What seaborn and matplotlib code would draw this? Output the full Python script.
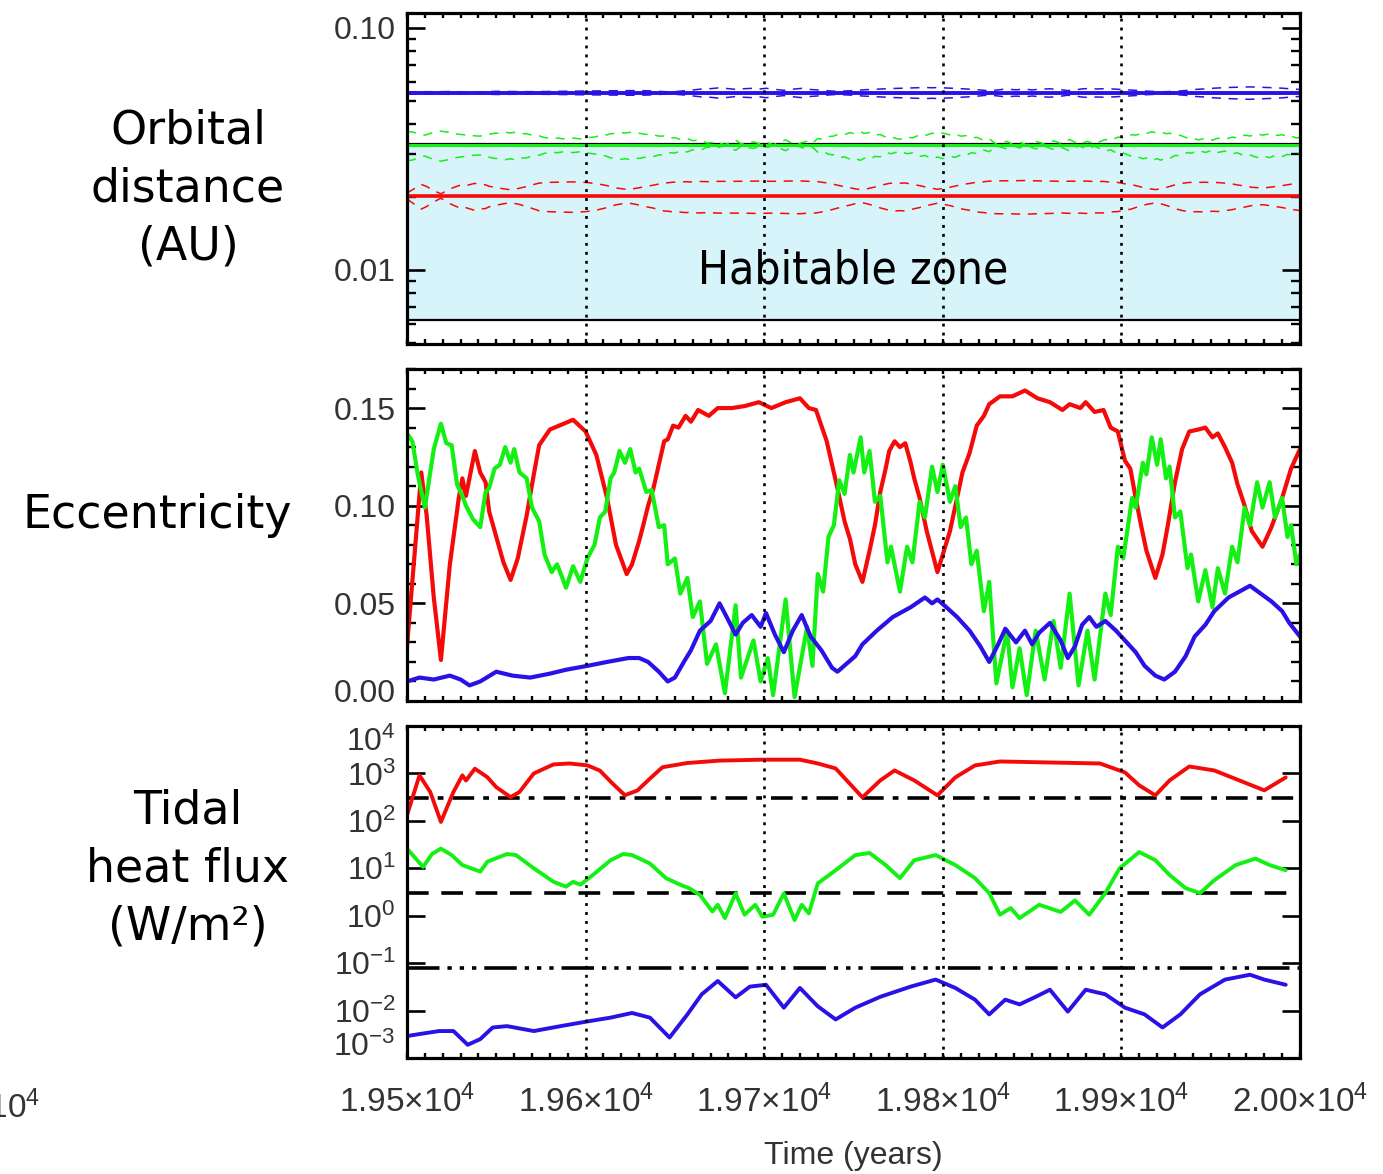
import numpy as np
import pandas as pd
import matplotlib
matplotlib.use("Agg")
import matplotlib.pyplot as plt
from matplotlib.ticker import FixedLocator, MultipleLocator, FuncFormatter, NullLocator, LogLocator
from matplotlib.transforms import ScaledTranslation
import seaborn as sns

# ---------------------------------------------------------------- data
# eccentricity histories (time in years)
red_t = [19500, 19508, 19511, 19515, 19519, 19524, 19529, 19531, 19533, 19538, 19541, 19544, 19546,
         19550, 19554, 19558, 19562, 19567, 19571, 19574, 19580, 19593, 19600, 19606, 19612, 19617,
         19623, 19626, 19630, 19632, 19635, 19638, 19641, 19644, 19646, 19649, 19652, 19656, 19659,
         19663, 19669, 19674, 19682, 19689, 19697, 19704, 19712, 19720, 19725, 19729, 19732, 19735,
         19738, 19741, 19745, 19748, 19751, 19755, 19759, 19762, 19765, 19768, 19770, 19773, 19776,
         19779, 19782, 19784, 19787, 19791, 19795, 19797, 19800, 19804, 19808, 19811, 19815, 19819,
         19823, 19826, 19832, 19839, 19846, 19853, 19860, 19867, 19871, 19877, 19880, 19885, 19890,
         19894, 19898, 19902, 19905, 19908, 19911, 19914, 19919, 19923, 19926, 19930, 19934, 19938,
         19943, 19947, 19951, 19954, 19958, 19962, 19965, 19969, 19973, 19979, 19984, 19990, 19995,
         20000]
red_e = [0.028, 0.117, 0.095, 0.053, 0.021, 0.070, 0.104, 0.114, 0.105, 0.128, 0.117, 0.112, 0.097,
         0.084, 0.071, 0.062, 0.073, 0.095, 0.116, 0.131, 0.139, 0.144, 0.138, 0.126, 0.104, 0.080,
         0.065, 0.070, 0.082, 0.089, 0.100, 0.109, 0.121, 0.133, 0.134, 0.141, 0.140, 0.146, 0.143,
         0.149, 0.146, 0.150, 0.150, 0.151, 0.153, 0.150, 0.153, 0.155, 0.150, 0.149, 0.141, 0.133,
         0.121, 0.109, 0.092, 0.083, 0.070, 0.061, 0.077, 0.090, 0.107, 0.119, 0.128, 0.133, 0.130,
         0.132, 0.122, 0.114, 0.104, 0.087, 0.073, 0.066, 0.075, 0.087, 0.104, 0.117, 0.127, 0.141,
         0.146, 0.152, 0.156, 0.156, 0.159, 0.155, 0.153, 0.149, 0.152, 0.150, 0.153, 0.148, 0.149,
         0.140, 0.138, 0.123, 0.119, 0.104, 0.090, 0.077, 0.063, 0.075, 0.090, 0.112, 0.129, 0.138,
         0.139, 0.140, 0.135, 0.137, 0.130, 0.122, 0.111, 0.100, 0.087, 0.079, 0.089, 0.104, 0.119,
         0.129]

green_t = [19500, 19503, 19506, 19510, 19513, 19515, 19519, 19522, 19525, 19528, 19531, 19533, 19537,
           19541, 19544, 19546, 19549, 19552, 19555, 19558, 19560, 19563, 19567, 19570, 19574, 19577,
           19581, 19584, 19587, 19589, 19593, 19597, 19601, 19605, 19608, 19611, 19614, 19616, 19619,
           19622, 19625, 19628, 19630, 19634, 19637, 19641, 19644, 19646, 19650, 19653, 19657, 19660,
           19664, 19668, 19673, 19678, 19684, 19687, 19694, 19698, 19702, 19705, 19712, 19717, 19724,
           19727, 19730, 19733, 19736, 19739, 19742, 19745, 19748, 19750, 19754, 19756, 19759, 19762,
           19765, 19769, 19771, 19776, 19780, 19783, 19787, 19790, 19794, 19797, 19800, 19804, 19807,
           19810, 19813, 19816, 19819, 19823, 19826, 19830, 19836, 19839, 19843, 19847, 19852, 19857,
           19862, 19866, 19871, 19876, 19881, 19885, 19891, 19894, 19898, 19901, 19906, 19908, 19912,
           19914, 19917, 19920, 19922, 19925, 19927, 19930, 19933, 19937, 19939, 19943, 19947, 19951,
           19954, 19958, 19962, 19965, 19969, 19972, 19976, 19979, 19983, 19986, 19990, 19993, 19995,
           19998, 20000]
green_e = [0.137, 0.133, 0.116, 0.099, 0.117, 0.129, 0.142, 0.132, 0.131, 0.111, 0.105, 0.100, 0.093,
           0.089, 0.107, 0.109, 0.119, 0.121, 0.130, 0.122, 0.129, 0.117, 0.114, 0.099, 0.092, 0.075,
           0.066, 0.070, 0.063, 0.058, 0.069, 0.061, 0.073, 0.080, 0.094, 0.097, 0.114, 0.117, 0.128,
           0.122, 0.129, 0.117, 0.119, 0.107, 0.108, 0.089, 0.090, 0.070, 0.073, 0.055, 0.063, 0.043,
           0.051, 0.019, 0.029, 0.004, 0.049, 0.012, 0.031, 0.010, 0.022, 0.003, 0.052, 0.002, 0.038,
           0.018, 0.065, 0.056, 0.084, 0.090, 0.113, 0.106, 0.126, 0.117, 0.135, 0.117, 0.128, 0.102,
           0.105, 0.071, 0.079, 0.056, 0.079, 0.071, 0.102, 0.094, 0.120, 0.107, 0.121, 0.102, 0.110,
           0.089, 0.094, 0.070, 0.077, 0.046, 0.061, 0.009, 0.036, 0.007, 0.027, 0.003, 0.036, 0.011,
           0.041, 0.017, 0.055, 0.008, 0.036, 0.011, 0.055, 0.044, 0.079, 0.073, 0.104, 0.099, 0.122,
           0.116, 0.135, 0.121, 0.134, 0.114, 0.120, 0.094, 0.097, 0.068, 0.075, 0.051, 0.067, 0.048,
           0.068, 0.055, 0.079, 0.071, 0.099, 0.090, 0.112, 0.099, 0.112, 0.094, 0.104, 0.084, 0.090,
           0.070, 0.075]

blue_t = [19500, 19507, 19515, 19524, 19530, 19535, 19541, 19550, 19559, 19569, 19580, 19589, 19601,
          19612, 19624, 19630, 19635, 19641, 19646, 19650, 19655, 19659, 19664, 19670, 19675, 19679,
          19684, 19688, 19693, 19698, 19701, 19706, 19711, 19716, 19721, 19726, 19732, 19738, 19741,
          19746, 19751, 19755, 19763, 19772, 19782, 19790, 19794, 19797, 19802, 19808, 19815, 19821,
          19826, 19831, 19835, 19841, 19846, 19850, 19854, 19860, 19866, 19870, 19874, 19878, 19882,
          19886, 19891, 19897, 19902, 19908, 19913, 19919, 19924, 19930, 19936, 19941, 19947, 19952,
          19960, 19966, 19972, 19978, 19984, 19990, 19994, 20000]
blue_e = [0.010, 0.012, 0.011, 0.013, 0.011, 0.008, 0.010, 0.015, 0.013, 0.012, 0.014, 0.016, 0.018,
          0.020, 0.022, 0.022, 0.020, 0.015, 0.010, 0.012, 0.020, 0.026, 0.036, 0.041, 0.050, 0.043,
          0.034, 0.040, 0.044, 0.038, 0.045, 0.034, 0.025, 0.036, 0.044, 0.033, 0.026, 0.017, 0.015,
          0.019, 0.023, 0.029, 0.036, 0.043, 0.048, 0.053, 0.050, 0.052, 0.048, 0.043, 0.036, 0.028,
          0.020, 0.029, 0.037, 0.030, 0.036, 0.029, 0.035, 0.040, 0.031, 0.022, 0.028, 0.039, 0.043,
          0.038, 0.041, 0.036, 0.031, 0.025, 0.018, 0.013, 0.011, 0.015, 0.023, 0.033, 0.039, 0.046,
          0.053, 0.056, 0.059, 0.055, 0.051, 0.046, 0.040, 0.033]

# semi-major axes (AU) and habitable zone edges (AU)
red_a, green_a, blue_a = 0.0202, 0.0328, 0.0539
hz_inner, hz_outer = 0.0062, 0.0332

# tidal surface heat flux (W/m^2)
red_ft = [19500, 19507, 19513, 19519, 19526, 19531, 19533, 19538, 19545, 19550, 19558, 19563, 19571,
          19582, 19591, 19601, 19608, 19615, 19622, 19629, 19636, 19643, 19657, 19675, 19699, 19720,
          19730, 19740, 19755, 19765, 19773, 19784, 19797, 19807, 19818, 19832, 19860, 19888, 19902,
          19910, 19919, 19927, 19938, 19952, 19966, 19980, 19992]
red_flux = [132, 912, 407, 95, 407, 912, 708, 1259, 832, 513, 316, 407, 1000,
            1549, 1622, 1479, 1148, 617, 347, 437, 776, 1349, 1660, 1862, 1950, 1950,
            1622, 1274, 313, 713, 1156, 713, 345, 824, 1473, 1787, 1700, 1622, 1050,
            560, 345, 713, 1400, 1156, 713, 440, 824]

green_ft = [19500, 19509, 19514, 19519, 19525, 19531, 19541, 19545, 19556, 19561, 19571, 19582, 19589,
            19593, 19597, 19604, 19614, 19621, 19626, 19636, 19645, 19653, 19658, 19664, 19671, 19674,
            19678, 19684, 19689, 19695, 19699, 19705, 19711, 19717, 19721, 19725, 19730, 19740, 19751,
            19759, 19768, 19776, 19784, 19796, 19807, 19818, 19826, 19832, 19838, 19843, 19854, 19866,
            19874, 19882, 19891, 19899, 19910, 19919, 19927, 19936, 19944, 19952, 19964, 19975, 19983,
            19992]
green_flux = [26, 10.7, 20, 26, 19, 11.7, 8.5, 13.8, 20, 19, 10, 5.2, 4.1,
              5.2, 4.5, 7.2, 14.8, 20, 19, 12.6, 6.2, 4.5, 3.8, 2.75, 1.23, 1.7,
              0.89, 2.95, 1.05, 1.7, 0.95, 1.05, 2.95, 0.81, 1.7, 1.12, 4.8, 9.1, 19,
              21, 11.7, 6.2, 14.8, 19, 11.7, 6.2, 3.0, 1.05, 1.45, 0.89, 1.7, 1.2,
              2.1, 1.05, 3.0, 10, 22, 14.8, 7.2, 3.8, 3.0, 5.6, 11.7, 16, 11.7,
              9.1]

blue_ft = [19500, 19507, 19518, 19526, 19534, 19541, 19548, 19556, 19571, 19586, 19601, 19614, 19626,
           19636, 19647, 19657, 19665, 19674, 19684, 19692, 19701, 19711, 19720, 19730, 19740, 19751,
           19765, 19782, 19796, 19807, 19818, 19826, 19835, 19843, 19852, 19860, 19870, 19880, 19891,
           19902, 19913, 19923, 19933, 19944, 19958, 19972, 19980, 19992]
blue_flux = [0.0029, 0.0032, 0.0037, 0.0037, 0.0019, 0.0025, 0.0044, 0.0047, 0.0037, 0.0047, 0.0059,
             0.0071, 0.0089, 0.0071, 0.0027, 0.0083, 0.022, 0.042, 0.019, 0.032, 0.035, 0.0115,
             0.030, 0.0123, 0.0065, 0.0115, 0.0195, 0.032, 0.045, 0.030, 0.017, 0.0083, 0.017,
             0.0135, 0.0195, 0.0275, 0.0095, 0.0275, 0.022, 0.0115, 0.0083, 0.0044, 0.0083, 0.022,
             0.045, 0.057, 0.045, 0.035]

# reference heat fluxes (W/m^2)
flux_runaway, flux_io, flux_earth = 300.0, 3.0, 0.08

time_ticks = [19500, 19600, 19700, 19800, 19900, 20000]
guide_years = [19600, 19700, 19800, 19900]

RED, GREEN, BLUE = "#f50a0a", "#14f014", "#2a12e6"
HZ_FILL = "#d8f4fb"
LABEL_GREY = "#333333"

# ---------------------------------------------------------------- style
sns.set_theme(style="white")
plt.rcParams["font.family"] = ["Liberation Sans", "DejaVu Sans"]
plt.rcParams["mathtext.fontset"] = "custom"
plt.rcParams["mathtext.rm"] = "Liberation Sans"
plt.rcParams["mathtext.it"] = "Liberation Sans:italic"
plt.rcParams["mathtext.bf"] = "Liberation Sans:bold"
plt.rcParams["mathtext.default"] = "regular"

W_PX, H_PX = 1383, 1174
fig = plt.figure(figsize=(W_PX / 100, H_PX / 100), dpi=100)


def panel(top, bottom):
    return fig.add_axes([407 / W_PX, 1 - bottom / H_PX, 893 / W_PX, (bottom - top) / H_PX])


ax_a = panel(13, 344)
ax_e = panel(369, 701)
ax_f = panel(726, 1058)
axes = [ax_a, ax_e, ax_f]

# ---------------------------------------------------------------- orbital distance
ax_a.axhspan(hz_inner, hz_outer, color=HZ_FILL, lw=0, zorder=0)
for edge in (hz_inner, hz_outer):
    ax_a.axhline(edge, color="black", lw=1.6, zorder=2)

for t, e, a, col, lw in [(blue_t, blue_e, blue_a, BLUE, 2.8),
                         (green_t, green_e, green_a, GREEN, 2.2),
                         (red_t, red_e, red_a, RED, 2.6)]:
    orb = pd.DataFrame({"t": t, "e": e})
    orb["a"] = a
    orb["peri"] = a * (1 - orb["e"])
    orb["apo"] = a * (1 + orb["e"])
    for col_name in ("peri", "apo"):
        sns.lineplot(data=orb, x="t", y=col_name, ax=ax_a, color=col, lw=1.1,
                     linestyle=(0, (6, 5)), estimator=None, sort=False, zorder=3)
    sns.lineplot(data=orb, x="t", y="a", ax=ax_a, color=col, lw=lw,
                 estimator=None, sort=False, zorder=4)

ax_a.text(0.5, 0.2205, "Habitable zone", transform=ax_a.transAxes, ha="center", va="center",
          fontsize=33, family="DejaVu Sans", fontstretch="condensed", color="black", zorder=5)

# ---------------------------------------------------------------- eccentricity
for t, e, col in [(red_t, red_e, RED), (green_t, green_e, GREEN), (blue_t, blue_e, BLUE)]:
    sns.lineplot(x=np.asarray(t), y=np.asarray(e), ax=ax_e, color=col, lw=3.0,
                 estimator=None, sort=False, zorder=4)

# ---------------------------------------------------------------- tidal heat flux
for t, f, col in [(red_ft, red_flux, RED), (green_ft, green_flux, GREEN), (blue_ft, blue_flux, BLUE)]:
    sns.lineplot(x=np.asarray(t), y=np.asarray(f), ax=ax_f, color=col, lw=2.8,
                 estimator=None, sort=False, zorder=4)

ax_f.axhline(flux_runaway, color="black", lw=2.6, linestyle=(0, (6, 2.5, 1.6, 2.5)), zorder=3)
ax_f.axhline(flux_io, color="black", lw=2.6, linestyle=(0, (6, 3.5)), zorder=3)
ax_f.axhline(flux_earth, color="black", lw=2.6,
             linestyle=(0, (9, 2.2, 1.2, 2.2, 1.2, 2.2, 1.2, 2.2)), zorder=3)

# ---------------------------------------------------------------- common axes styling
for ax in axes:
    for yr in guide_years:
        ax.axvline(yr, color="black", lw=1.9, linestyle=(0, (1.1, 2.3)), zorder=6)
    ax.set_xlim(time_ticks[0], time_ticks[-1])
    ax.xaxis.set_major_locator(FixedLocator(time_ticks))
    ax.xaxis.set_minor_locator(MultipleLocator(10))
    ax.set_xlabel("")
    ax.set_ylabel("")
    ax.grid(False)
    ax.set_facecolor("white")
    for sp in ax.spines.values():
        sp.set_visible(True)
        sp.set_linewidth(2.3)
        sp.set_color("black")
        sp.set_zorder(8)

ax_a.set_yscale("log")
ax_a.set_ylim(0.00494, 0.1153)
ax_a.yaxis.set_major_locator(FixedLocator([0.01, 0.1]))
ax_a.yaxis.set_minor_locator(LogLocator(base=10, subs=np.arange(2, 10)))
ax_a.yaxis.set_major_formatter(FuncFormatter(lambda v, p: f"{v:.2f}"))

ax_e.set_ylim(0, 0.17)
ax_e.yaxis.set_major_locator(FixedLocator([0.0, 0.05, 0.10, 0.15]))
ax_e.yaxis.set_minor_locator(MultipleLocator(0.01))
ax_e.yaxis.set_major_formatter(FuncFormatter(lambda v, p: f"{v:.2f}"))

flux_decades = [1e-3, 1e-2, 1e-1, 1e0, 1e1, 1e2, 1e3, 1e4]
ax_f.set_yscale("log")
ax_f.set_ylim(flux_decades[0], flux_decades[-1])
ax_f.yaxis.set_major_locator(FixedLocator(flux_decades))
ax_f.yaxis.set_minor_locator(NullLocator())
ax_f.yaxis.set_major_formatter(FuncFormatter(lambda v, p: f"$10^{{{int(round(np.log10(v)))}}}$"))
ax_f.xaxis.set_major_formatter(FuncFormatter(lambda v, p: f"{v / 1e4:.2f}\u00d710$^{{4}}$"))

for ax in axes:
    ax.tick_params(axis="both", which="both", direction="in", top=True, right=True,
                   left=True, bottom=True, color="black")
    ax.tick_params(axis="x", which="both", length=3.4, width=1.7)
    ax.tick_params(axis="y", which="major", length=13, width=1.9, labelsize=23,
                   labelcolor=LABEL_GREY, pad=8)
    ax.tick_params(axis="y", which="minor", length=6.5, width=1.7)
for ax in (ax_a, ax_e):
    ax.tick_params(axis="x", labelbottom=False)
ax_f.tick_params(axis="x", which="major", labelsize=24, labelcolor=LABEL_GREY, pad=19)

ax_f.set_xlabel("Time (years)", fontsize=23, color=LABEL_GREY)
ax_f.xaxis.set_label_coords(0.5, -0.295)
ax_f.xaxis.label.set_va("center")


def nudge(ax, loc_list, loc, dy_px):
    ticks = ax.yaxis.get_major_ticks(len(loc_list))
    lab = ticks[loc_list.index(loc)].label1
    lab.set_transform(lab.get_transform() + ScaledTranslation(0, dy_px / 100, fig.dpi_scale_trans))


nudge(ax_e, [0.0, 0.05, 0.10, 0.15], 0.0, 11)
nudge(ax_f, flux_decades, 1e4, -13)
nudge(ax_f, flux_decades, 1e-3, 14)

# ---------------------------------------------------------------- row titles
title_kw = dict(ha="center", va="center", fontsize=33, family="DejaVu Sans",
                color="black", linespacing=1.37)
fig.text(188 / W_PX, 1 - 189 / H_PX, "Orbital\ndistance\n(AU)", **title_kw)
fig.text(157 / W_PX, 1 - 515 / H_PX, "Eccentricity", **title_kw)
fig.text(188 / W_PX, 1 - 869 / H_PX, "Tidal\nheat flux\n(W/m\u00b2)", **title_kw)

# clipped axis label of the neighbouring figure at the left margin
fig.text(40 / W_PX, 1 - 1118 / H_PX, "1.95\u00d710$^{4}$", ha="right", va="baseline",
         fontsize=24, color=LABEL_GREY)

fig.savefig("out.png", dpi=100, facecolor="white")
